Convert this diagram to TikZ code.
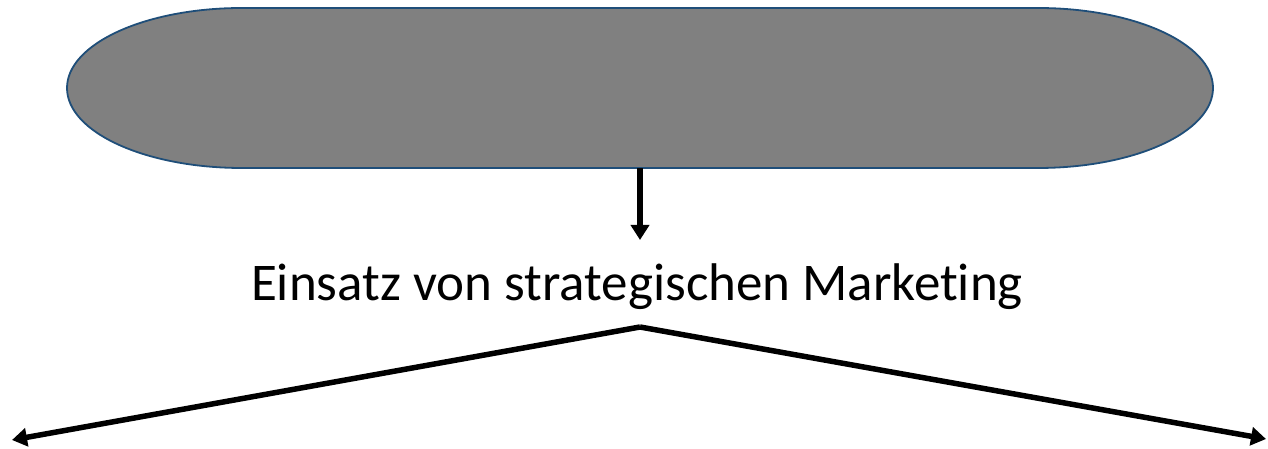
\documentclass[tikz,border=0pt]{standalone}
\usepackage{fontspec}
\setmainfont[Ligatures=NoCommon]{Carlito}
\usetikzlibrary{arrows.meta}
\definecolor{edgeblue}{HTML}{1F4E79}
\definecolor{shapegray}{HTML}{808080}
\tikzset{
  conn/.style={line width=5.5pt,-{Triangle[width=18pt,length=15pt]}},
  stadium/.style={draw=edgeblue,line width=1.8pt,fill=shapegray},
  lbl/.style={font=\fontsize{53}{58}\selectfont,inner sep=0pt}
}
\begin{document}
\begin{tikzpicture}[x=1pt,y=1pt]
\useasboundingbox (0,0) rectangle (1268,449);
% stadium shape
\path[stadium] (242,441) -- (1038,441)
  arc[start angle=90,end angle=-90,x radius=175,y radius=80]
  -- (242,281)
  arc[start angle=270,end angle=90,x radius=175,y radius=80] -- cycle;
\node[inner sep=0pt,minimum width=1146pt,minimum height=160pt] (top) at (640,361) {};
\node[lbl,anchor=base] (t) at (637,148) {Einsatz von strategischen Marketing};
\coordinate (apex) at (640,122);
\coordinate (L) at (12,9);
\coordinate (R) at (1266,10);
\draw[conn] (top.south) -- (640,209);
\draw[conn] (apex) -- (L);
\draw[conn] (apex) -- (R);
\end{tikzpicture}
\end{document}
